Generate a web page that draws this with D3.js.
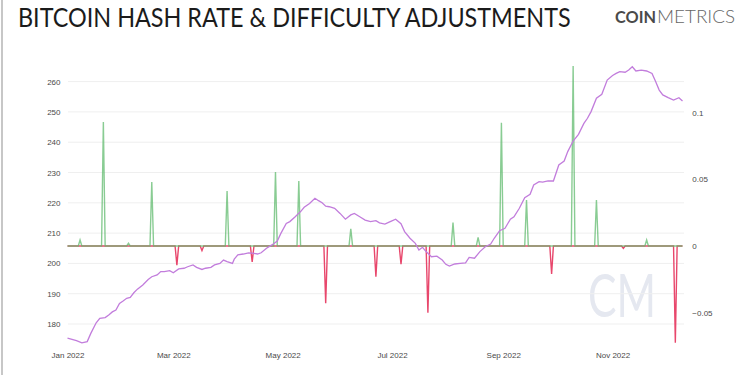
<!DOCTYPE html>
<html>
<head>
<meta charset="utf-8">
<script src="https://cdn.jsdelivr.net/npm/d3@7"></script>
<style>
  body { margin: 0; background: #fff; }
  svg { display: block; }
</style>
</head>
<body>
<script>
// hash rate (7 day avg, EH/s)
var hashDates = ['2022-01-01','2022-01-06','2022-01-09','2022-01-12','2022-01-14','2022-01-17','2022-01-19','2022-01-22','2022-01-24','2022-01-26',
  '2022-01-28','2022-01-30','2022-02-01','2022-02-03','2022-02-05','2022-02-07','2022-02-09','2022-02-12','2022-02-15','2022-02-17',
  '2022-02-20','2022-02-22','2022-02-24','2022-02-27','2022-03-01','2022-03-04','2022-03-07','2022-03-09','2022-03-12','2022-03-14',
  '2022-03-17','2022-03-19','2022-03-22','2022-03-24','2022-03-27','2022-03-29','2022-03-31','2022-04-03','2022-04-04','2022-04-06',
  '2022-04-09','2022-04-12','2022-04-15','2022-04-17','2022-04-19','2022-04-22','2022-04-25','2022-04-28','2022-04-30','2022-05-03',
  '2022-05-05','2022-05-08','2022-05-11','2022-05-13','2022-05-16','2022-05-19','2022-05-21','2022-05-23','2022-05-25','2022-05-27',
  '2022-05-30','2022-06-02','2022-06-05','2022-06-08','2022-06-10','2022-06-13','2022-06-16','2022-06-19','2022-06-22','2022-06-24',
  '2022-06-27','2022-06-30','2022-07-03','2022-07-06','2022-07-08','2022-07-11','2022-07-14','2022-07-16','2022-07-18','2022-07-20',
  '2022-07-23','2022-07-26','2022-07-29','2022-07-31','2022-08-02','2022-08-05','2022-08-08','2022-08-11','2022-08-13','2022-08-16',
  '2022-08-19','2022-08-22','2022-08-25','2022-08-27','2022-08-30','2022-09-02','2022-09-05','2022-09-07','2022-09-10','2022-09-13',
  '2022-09-16','2022-09-18','2022-09-21','2022-09-23','2022-09-26','2022-09-29','2022-10-02','2022-10-05','2022-10-07','2022-10-10',
  '2022-10-13','2022-10-16','2022-10-18','2022-10-20','2022-10-23','2022-10-26','2022-10-29','2022-11-01','2022-11-03','2022-11-05',
  '2022-11-08','2022-11-10','2022-11-12','2022-11-14','2022-11-17','2022-11-20','2022-11-23','2022-11-25','2022-11-27','2022-11-29',
  '2022-12-02','2022-12-05','2022-12-08','2022-12-10'];
var hashValues = [175.3,174.5,173.8,174.2,176.9,180.4,181.9,182.1,183,184,
  184.6,186.8,187.6,188.5,188.8,190.3,191.5,192.9,194.7,195.6,
  196.2,197.3,197.3,197.6,196.9,198.2,198.4,198.9,199.5,198.7,
  198,198.4,198.7,199.5,200,201.1,200.6,200,201.4,202.8,
  203.1,203.5,203.3,203.1,203.5,205,206.1,207.4,209.9,213.2,
  213.8,215.4,217.1,218.5,219.8,221.5,220.7,220,218.9,218.7,
  218.2,216.5,214.6,216,216.5,215.4,214.3,213.8,214.1,213.4,
  213,213.8,214.6,213.1,210.5,208.3,206.6,204.4,205.3,203.9,
  202.2,202.4,201.1,199.7,199.1,199.8,200,200.2,202,201.7,
  203.9,205.5,206.4,208.3,210.8,211.6,214.6,215.4,218.2,221.7,
  222.8,225.9,227,226.8,227.2,227.2,232.5,233.8,236.9,240.4,
  242.6,246.2,247.9,250.1,254.5,255.8,260.5,262,262.7,263.3,
  263.1,263.8,264.9,263.5,263.8,263.5,262.7,260,257.2,255.6,
  254.7,253.9,254.7,253.6];

// difficulty adjustments (relative change)
var adjDates = ['2022-01-08','2022-01-21','2022-02-04','2022-02-17','2022-03-03','2022-03-17','2022-03-31','2022-04-14','2022-04-27',
  '2022-05-10','2022-05-25','2022-06-08','2022-06-22','2022-07-06','2022-07-21','2022-08-04','2022-08-18','2022-08-31',
  '2022-09-14','2022-09-28','2022-10-10','2022-10-23','2022-11-07','2022-11-20','2022-12-06'];
var adjValues = [0.0045,0.093,0.002,0.048,-0.0143,-0.0035,0.0413,-0.012,0.0555,
  0.0488,-0.043,0.0128,-0.023,-0.0137,-0.05,0.0175,0.0065,0.0925,
  0.0345,-0.021,0.135,0.0345,-0.0017,0.0045,-0.0725];

var leftTicks = [180,190,200,210,220,230,240,250,260];
var rightTicks = [-0.05,0,0.05,0.1];
var startDate = '2022-01-01';
var endDate = '2022-12-11';

var w = 750;
var h = 375;
var parse = d3.timeParse('%Y-%m-%d');

var svg = d3.select('body')
  .append('svg')
  .attr('width', w)
  .attr('height', h)
  .style('font-family', '"Liberation Sans", Arial, sans-serif');

svg.append('rect').attr('width', w).attr('height', h).attr('fill', '#fff');
svg.append('line')
  .attr('x1', 2).attr('x2', 2).attr('y1', 0).attr('y2', h)
  .attr('stroke', '#b5b5b5').attr('stroke-width', 1.5);

/* ===== title and logo ===== */

var title = svg.append('text')
  .attr('x', 0)
  .attr('y', 0)
  .style('font-family', 'Lato, sans-serif')
  .style('font-size', '26px')
  .attr('fill', '#1b1b1b')
  .text('BITCOIN HASH RATE & DIFFICULTY ADJUSTMENTS');
// squeeze the title to the width it has in the original
var titleLen = title.node().getComputedTextLength();
title.attr('transform', 'translate(18,27) scale(' + (553 / titleLen) + ',1)');

svg.append('text')
  .attr('x', 615)
  .attr('y', 23)
  .attr('textLength', 41)
  .attr('lengthAdjust', 'spacingAndGlyphs')
  .style('font-family', 'Lato, sans-serif')
  .style('font-size', '17px')
  .style('font-weight', 700)
  .attr('fill', '#4a4a4a')
  .text('COIN');

svg.append('text')
  .attr('x', 657)
  .attr('y', 23)
  .attr('textLength', 78)
  .attr('lengthAdjust', 'spacingAndGlyphs')
  .style('font-family', 'Lato, sans-serif')
  .style('font-size', '17px')
  .style('font-weight', 300)
  .attr('fill', '#666')
  .text('METRICS');

/* ===== scales ===== */

var plotTop = 60;
var plotBottom = 345;

var xScale = d3.scaleTime()
  .domain([parse(startDate), parse(endDate)])
  .range([67.5, 684.3]);

var yLeft = d3.scaleLinear()
  .domain([173.07, 267.13])
  .range([plotBottom, plotTop]);

var yRight = d3.scaleLinear()
  .domain([-0.07425, 0.1395])
  .range([plotBottom, plotTop]);

/* ===== watermark ===== */

svg.append('text')
  .attr('x', 588)
  .attr('y', 317)
  .attr('textLength', 68)
  .attr('lengthAdjust', 'spacingAndGlyphs')
  .style('font-family', 'Lato, sans-serif')
  .style('font-weight', 400)
  .style('font-size', '60px')
  .attr('fill', '#e5e8f0')
  .text('CM');

/* ===== grid and axes ===== */

svg.append('g')
  .selectAll('line')
  .data(leftTicks)
  .enter()
  .append('line')
  .attr('x1', 68)
  .attr('x2', 684)
  .attr('y1', function(d) { return yLeft(d); })
  .attr('y2', function(d) { return yLeft(d); })
  .attr('stroke', '#efefef')
  .attr('stroke-width', 1);

var leftAxis = svg.append('g')
  .attr('transform', 'translate(67.5,0)')
  .call(d3.axisLeft(yLeft).tickValues(leftTicks).tickSize(0).tickPadding(7));

var rightAxis = svg.append('g')
  .attr('transform', 'translate(684.3,0)')
  .call(d3.axisRight(yRight).tickValues(rightTicks).tickSize(0).tickPadding(8).tickFormat(d3.format('')));

var xAxis = svg.append('g')
  .attr('transform', 'translate(0,349)')
  .call(d3.axisBottom(xScale).ticks(d3.timeMonth.every(2)).tickSize(0).tickPadding(3).tickFormat(d3.timeFormat('%b %Y')));

[leftAxis, rightAxis, xAxis].forEach(function(a) {
  a.select('.domain').remove();
  a.selectAll('text')
    .style('font-family', '"Liberation Sans", Arial, sans-serif')
    .style('font-size', '8px')
    .attr('fill', '#4a4a4a');
});

/* ===== difficulty adjustments ===== */

var adjMap = {};
adjDates.forEach(function(d, i) { adjMap[d] = adjValues[i]; });
var fmt = d3.timeFormat('%Y-%m-%d');
var days = d3.timeDay.range(parse(startDate), d3.timeDay.offset(parse('2022-12-10'), 1));
var daily = days.map(function(d) {
  var v = adjMap[fmt(d)] || 0;
  return { date: d, v: v };
});

var adjLine = function(sign) {
  return d3.line()
    .x(function(d) { return xScale(d.date); })
    .y(function(d) { return yRight(sign > 0 ? Math.max(d.v, 0) : Math.min(d.v, 0)); });
};

svg.append('path')
  .datum(daily)
  .attr('d', adjLine(-1))
  .attr('fill', 'none')
  .attr('stroke', '#e8476c')
  .attr('stroke-width', 1.4);

svg.append('path')
  .datum(daily)
  .attr('d', adjLine(1))
  .attr('fill', 'none')
  .attr('stroke', '#5cb86a')
  .attr('stroke-opacity', 0.72)
  .attr('stroke-width', 1.4);

/* ===== hash rate ===== */

var hashData = hashDates.map(function(d, i) {
  return { date: parse(d), v: hashValues[i] };
});

svg.append('path')
  .datum(hashData)
  .attr('d', d3.line()
    .x(function(d) { return xScale(d.date); })
    .y(function(d) { return yLeft(d.v); }))
  .attr('fill', 'none')
  .attr('stroke', '#c27ddc')
  .attr('stroke-width', 1.3);
</script>
</body>
</html>
